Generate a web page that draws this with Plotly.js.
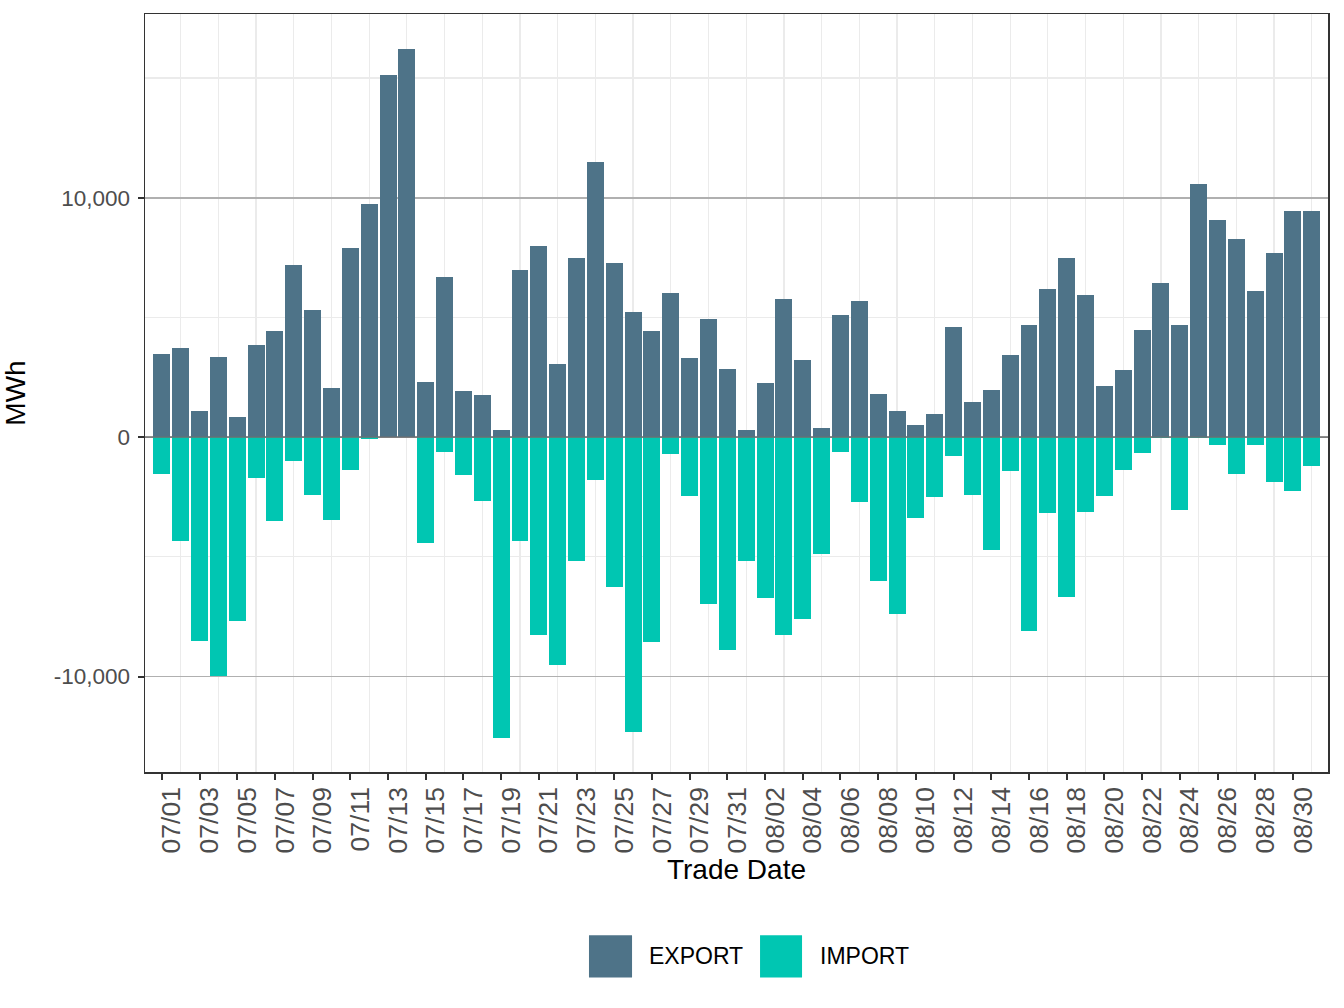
<!DOCTYPE html>
<html>
<head>
<meta charset="utf-8">
<script src="https://cdn.plot.ly/plotly-3.0.1.min.js"></script>
<style>
  html, body { margin: 0; padding: 0; background: #ffffff; }
  #chart { width: 1344px; height: 1008px; }
</style>
</head>
<body>
<div id="chart"></div>
<script>
// Trade dates (July 1 – August 31)
const tradeDates = [
  '2024-07-01','2024-07-02','2024-07-03','2024-07-04','2024-07-05','2024-07-06','2024-07-07','2024-07-08',
  '2024-07-09','2024-07-10','2024-07-11','2024-07-12','2024-07-13','2024-07-14','2024-07-15','2024-07-16',
  '2024-07-17','2024-07-18','2024-07-19','2024-07-20','2024-07-21','2024-07-22','2024-07-23','2024-07-24',
  '2024-07-25','2024-07-26','2024-07-27','2024-07-28','2024-07-29','2024-07-30','2024-07-31',
  '2024-08-01','2024-08-02','2024-08-03','2024-08-04','2024-08-05','2024-08-06','2024-08-07','2024-08-08',
  '2024-08-09','2024-08-10','2024-08-11','2024-08-12','2024-08-13','2024-08-14','2024-08-15','2024-08-16',
  '2024-08-17','2024-08-18','2024-08-19','2024-08-20','2024-08-21','2024-08-22','2024-08-23','2024-08-24',
  '2024-08-25','2024-08-26','2024-08-27','2024-08-28','2024-08-29','2024-08-30','2024-08-31'
];

// EXPORT (MWh, positive)
const exportMWh = [
  3470, 3720, 1090, 3340, 840, 3840, 4430, 7190,
  5310, 2050, 7900, 9740, 15130, 16210, 2300, 6690,
  1910, 1750, 280, 6980, 7990, 3050, 7490, 11510,
  7280, 5220, 4430, 6020, 3300, 4930, 2840,
  290, 2260, 5770, 3220, 380, 5100, 5680, 1800,
  1090, 500, 960, 4600, 1460, 1960, 3430, 4680,
  6180, 7480, 5930, 2130, 2800, 4470, 6440, 4680,
  10570, 9070, 8270, 6100, 7690, 9440, 9440
];

// IMPORT (MWh, negative)
const importMWh = [
  -1530, -4330, -8500, -9970, -7660, -1700, -3490, -990,
  -2410, -3450, -1360, -70, 0, 0, -4410, -610,
  -1570, -2660, -12550, -4330, -8250, -9500, -5160, -1780,
  -6250, -12300, -8540, -700, -2450, -6950, -8870,
  -5160, -6700, -8250, -7580, -4870, -610, -2700, -5990,
  -7370, -3370, -2490, -780, -2410, -4700, -1410, -8090,
  -3160, -6660, -3120, -2450, -1360, -650, -30, -3030,
  -20, -320, -1530, -320, -1860, -2240, -1200
];

const seriesNames = ['EXPORT', 'IMPORT'];
const seriesColors = ['#4e7388', '#00c6b2'];

// y-axis tick labels
const yTickVals = [-10000, 0, 10000];
const yTickText = ['-10,000', '0', '10,000'];

const DAY = 86400000;
const FONT = 'Liberation Sans, Arial, Helvetica, sans-serif';

const traces = [
  {
    type: 'bar', name: seriesNames[0], x: tradeDates, y: exportMWh,
    width: 0.9 * DAY, marker: { color: seriesColors[0], line: { width: 0 } },
    showlegend: false
  },
  {
    type: 'bar', name: seriesNames[1], x: tradeDates, y: importMWh,
    width: 0.9 * DAY, marker: { color: seriesColors[1], line: { width: 0 } },
    showlegend: false
  }
];

// legend (drawn as paper-space keys with large squares like ggplot)
const legKeys = [
  { x0: 0.3753, x1: 0.4117, tx: 0.4240 },
  { x0: 0.5199, x1: 0.5554, tx: 0.5685 }
];
const shapes = [
  { type: 'line', xref: 'paper', yref: 'y', x0: 0, x1: 1, y0: 0, y1: 0,
    line: { color: '#6e6e6e', width: 1.3 }, layer: 'above' }
];
const annotations = [];
legKeys.forEach((k, i) => {
  shapes.push({ type: 'rect', xref: 'paper', yref: 'paper', x0: k.x0, x1: k.x1, y0: -0.2155, y1: -0.2710,
    fillcolor: seriesColors[i], line: { width: 0 } });
  annotations.push({ xref: 'paper', yref: 'paper', x: k.tx, y: -0.2432, xanchor: 'left', yanchor: 'middle',
    text: seriesNames[i], showarrow: false, font: { family: FONT, size: 23, color: '#000000' } });
});

const layout = {
  width: 1344, height: 1008,
  margin: { l: 145, r: 16, t: 14, b: 236 },
  paper_bgcolor: '#ffffff', plot_bgcolor: '#ffffff',
  barmode: 'relative', bargap: 0,
  font: { family: FONT },
  showlegend: false,
  xaxis: {
    type: 'date',
    range: ['2024-06-30 02:37', '2024-08-31 20:39'],
    tickformat: '%m/%d', tick0: '2024-07-01', dtick: 2 * DAY,
    tickangle: -90,
    ticks: 'outside', ticklen: 6, tickwidth: 2, tickcolor: '#333333',
    ticklabelshift: 10, ticklabelstandoff: -3,
    tickfont: { family: FONT, size: 26.5, color: '#4d4d4d' },
    showgrid: false,
    minor: { tick0: '2024-07-02', dtick: 2 * DAY, showgrid: true, gridcolor: '#ebebeb', gridwidth: 1.2, ticklen: 0 },
    showline: true, mirror: true, linecolor: '#333333', linewidth: 1.5,
    zeroline: false,
    title: { text: 'Trade Date', font: { family: FONT, size: 28, color: '#000000' }, standoff: 7 }
  },
  yaxis: {
    range: [-13987, 17677],
    tickmode: 'array', tickvals: yTickVals, ticktext: yTickText,
    ticks: 'outside', ticklen: 6, tickwidth: 2, tickcolor: '#333333',
    ticklabelstandoff: 3,
    tickfont: { family: FONT, size: 22.5, color: '#4d4d4d' },
    showgrid: true, gridcolor: '#b0b0b0', gridwidth: 1.8,
    minor: { tickmode: 'linear', tick0: 5000, dtick: 10000, showgrid: true, gridcolor: '#ebebeb', gridwidth: 1.2, ticklen: 0 },
    showline: true, mirror: true, linecolor: '#333333', linewidth: 1.5,
    zeroline: false,
    title: { text: 'MWh', font: { family: FONT, size: 28, color: '#000000' }, standoff: 22 }
  },
  shapes: shapes,
  annotations: annotations
};

Plotly.newPlot('chart', traces, layout, { displayModeBar: false, staticPlot: true });
</script>
</body>
</html>
